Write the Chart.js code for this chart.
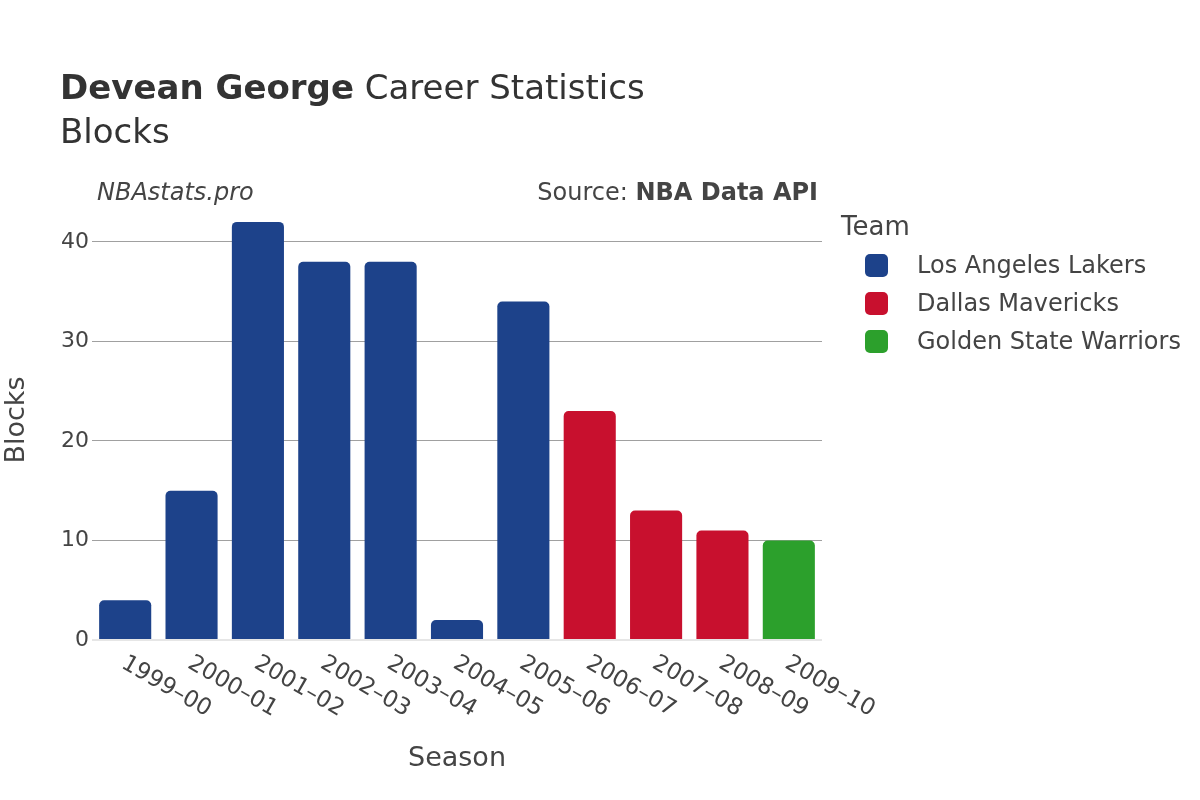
<!DOCTYPE html>
<html>
<head>
<meta charset="utf-8">
<script src="https://cdn.jsdelivr.net/npm/chart.js@4.4.1/dist/chart.umd.min.js"></script>
<style>
    body { margin: 0; background: #fff; font-family: "DejaVu Sans", sans-serif; color: #444; }
    #wrap { position: relative; width: 1200px; height: 800px; }
    #myChart { position: absolute; left: 0; top: 0; }
    .txt { position: absolute; white-space: nowrap; line-height: 1; }
    .legend-item { position: absolute; left: 865px; height: 23px; }
    .legend-box { position: absolute; left: 0; top: 0; width: 23px; height: 23px; border-radius: 5px; }
    .legend-label { position: absolute; left: 52px; top: -1px; font-size: 24px; line-height: 1; white-space: nowrap; color: #444; }
</style>
</head>
<body>
<div id="wrap">
    <canvas id="myChart" width="1200" height="800"></canvas>
    <div class="txt" style="left:60px; top:70px; font-size:34px; color:#333;"><b>Devean George</b> Career Statistics</div>
    <div class="txt" style="left:60px; top:114px; font-size:34px; color:#333;">Blocks</div>
    <div class="txt" style="left:97px; top:180px; font-size:24px; font-style:italic;">NBAstats.pro</div>
    <div class="txt" style="right:382px; top:180px; font-size:24px;">Source: <b>NBA Data API</b></div>
    <div class="txt" style="left:841px; top:213px; font-size:26px;">Team</div>
    <div id="legend"></div>
</div>
<script>
const seasons = ["1999–00", "2000–01", "2001–02", "2002–03", "2003–04", "2004–05",
    "2005–06", "2006–07", "2007–08", "2008–09", "2009–10"];
const blocks = [4, 15, 42, 38, 38, 2, 34, 23, 13, 11, 10];
const seasonTeam = ["LAL", "LAL", "LAL", "LAL", "LAL", "LAL", "LAL", "DAL", "DAL", "DAL", "GSW"];

const teamCodes = ["LAL", "DAL", "GSW"];
const teamNames = ["Los Angeles Lakers", "Dallas Mavericks", "Golden State Warriors"];
const teamColors = ["#1d428a", "#c8102e", "#2ca02c"];

const yTicks = [0, 10, 20, 30, 40];

function colorFor(code) {
    return teamColors[teamCodes.indexOf(code)];
}

// legend (html)
const legend = document.getElementById('legend');
teamNames.forEach((name, i) => {
    const item = document.createElement('div');
    item.className = 'legend-item';
    item.style.top = (254 + i * 38) + 'px';
    item.innerHTML = '<div class="legend-box" style="background:' + teamColors[i] + '"></div>' +
        '<div class="legend-label">' + name + '</div>';
    legend.appendChild(item);
});

// x labels are rotated clockwise, chart.js can't do that on a bottom axis
const rotatedLabels = {
    id: 'rotatedLabels',
    afterDraw(chart) {
        const ctx = chart.ctx;
        const xs = chart.scales.x;
        ctx.save();
        ctx.font = '23px "DejaVu Sans"';
        ctx.fillStyle = '#444';
        ctx.textAlign = 'left';
        ctx.textBaseline = 'alphabetic';
        seasons.forEach((s, i) => {
            const px = xs.getPixelForTick(i);
            ctx.save();
            ctx.translate(px - 5, 667);
            ctx.rotate(Math.PI / 6);
            ctx.fillText(s, 0, 0);
            ctx.restore();
        });
        ctx.restore();
    }
};

const chrt = document.getElementById('myChart');
new Chart(chrt, {
    type: 'bar',
    data: {
        labels: seasons,
        datasets: [{
            label: 'Blocks',
            data: blocks,
            backgroundColor: seasonTeam.map(colorFor),
            borderRadius: 5,
            barPercentage: 0.785,
            categoryPercentage: 1
        }]
    },
    options: {
        responsive: false,
        animation: false,
        events: [],
        layout: {
            padding: { top: 200, right: 378, left: 0, bottom: 0 }
        },
        plugins: {
            legend: { display: false },
            tooltip: { enabled: false }
        },
        scales: {
            x: {
                grid: { display: false },
                border: { display: false },
                ticks: { display: false },
                title: {
                    display: true,
                    text: 'Season',
                    color: '#444',
                    font: { family: 'DejaVu Sans', size: 27 },
                    padding: { top: 0, bottom: 25 }
                },
                afterFit: (scale) => { scale.height = 160; }
            },
            y: {
                min: 0,
                max: 44.2,
                border: { display: false },
                grid: {
                    drawTicks: false,
                    color: (c) => c.tick && c.tick.value === 0 ? '#e6e6e6' : '#a0a0a0',
                    lineWidth: (c) => c.tick && c.tick.value === 0 ? 2 : 1
                },
                ticks: {
                    color: '#444',
                    padding: 3,
                    font: { family: 'DejaVu Sans', size: 22 }
                },
                afterBuildTicks: (scale) => {
                    scale.ticks = yTicks.map(v => ({ value: v }));
                },
                title: {
                    display: true,
                    text: 'Blocks',
                    color: '#444',
                    font: { family: 'DejaVu Sans', size: 27 },
                    padding: { top: 1, bottom: 0 }
                },
                afterFit: (scale) => { scale.width = 92; }
            }
        }
    },
    plugins: [rotatedLabels]
});
</script>
</body>
</html>
